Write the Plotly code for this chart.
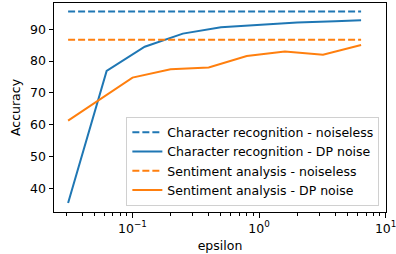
import plotly.graph_objects as go

# Data
cr_eps = [0.031, 0.0625, 0.125, 0.25, 0.5, 1.0, 2.0, 4.0, 6.4]
cr_dp = [35.5, 76.9, 84.5, 88.6, 90.6, 91.4, 92.1, 92.5, 92.8]
cr_noiseless = 95.5

sa_eps = [0.031, 0.1, 0.2, 0.4, 0.8, 1.6, 3.2, 6.4]
sa_dp = [61.3, 74.8, 77.4, 78.0, 81.6, 83.0, 82.0, 85.0]
sa_noiseless = 86.7

x_major = [0.1, 1, 10]
x_major_text = ["10<sup>\u22121</sup>", "10<sup>0</sup>", "10<sup>1</sup>"]
y_ticks = [40, 50, 60, 70, 80, 90]

BLUE = "#1f77b4"
ORANGE = "#ff7f0e"
FONT = "DejaVu Sans"
DASH = "7px,3px"
FS = 12.5

minor_vals = []
for dec in [0.01, 0.1, 1]:
    for m in range(2, 10):
        v = m * dec
        if 0.024 < v < 10:
            minor_vals.append(v)

fig = go.Figure()
fig.add_trace(go.Scatter(x=[min(cr_eps), max(cr_eps)], y=[cr_noiseless] * 2, mode="lines",
                         line=dict(color=BLUE, width=2, dash=DASH),
                         name="Character recognition - noiseless"))
fig.add_trace(go.Scatter(x=cr_eps, y=cr_dp, mode="lines",
                         line=dict(color=BLUE, width=2),
                         name="Character recognition - DP noise"))
fig.add_trace(go.Scatter(x=[min(sa_eps), max(sa_eps)], y=[sa_noiseless] * 2, mode="lines",
                         line=dict(color=ORANGE, width=2, dash=DASH),
                         name="Sentiment analysis - noiseless"))
fig.add_trace(go.Scatter(x=sa_eps, y=sa_dp, mode="lines",
                         line=dict(color=ORANGE, width=2),
                         name="Sentiment analysis - DP noise"))

fig.update_layout(
    width=396, height=254,
    margin=dict(l=54, r=9.5, t=3, b=41.5),
    paper_bgcolor="white", plot_bgcolor="white",
    font=dict(family=FONT, size=FS, color="black"),
    showlegend=True,
    legend=dict(x=0.98, y=0.031, xanchor="right", yanchor="bottom",
                bgcolor="rgba(255,255,255,0.8)", bordercolor="#d0d0d0", borderwidth=1,
                font=dict(family=FONT, size=FS), tracegroupgap=0,
                itemwidth=30),
)
fig.update_xaxes(
    type="log", range=[-1.62, 1.003], automargin=False,
    ticklabeloverflow="allow",
    tickmode="array", tickvals=x_major, ticktext=x_major_text,
    ticks="outside", ticklen=4.5, tickwidth=1, tickcolor="black",
    showline=True, linecolor="black", linewidth=1, mirror=True,
    showgrid=False, zeroline=False,
    minor=dict(tickmode="array", tickvals=minor_vals, ticks="outside",
               ticklen=2.5, tickwidth=0.8, tickcolor="black", showgrid=False),
    title=dict(text="epsilon", font=dict(size=FS), standoff=6),
)
fig.update_yaxes(
    range=[32.66, 98.2], automargin=False,
    tickmode="array", tickvals=y_ticks,
    ticks="outside", ticklen=4.5, tickwidth=1, tickcolor="black",
    showline=True, linecolor="black", linewidth=1, mirror=True,
    showgrid=False, zeroline=False,
    title=dict(text="Accuracy", font=dict(size=FS), standoff=6),
)

fig.write_html("out.html",
               config={"displayModeBar": False},
               post_script="document.body.style.margin='0';document.body.style.overflow='hidden';")
